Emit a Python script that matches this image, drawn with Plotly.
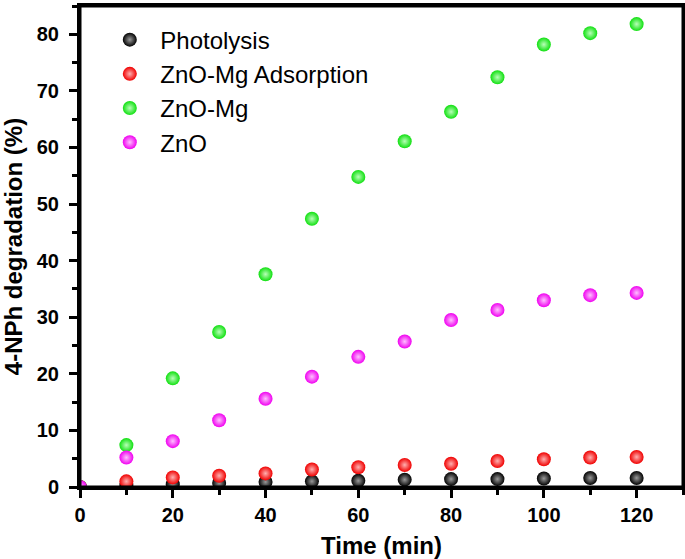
import plotly.graph_objects as go

time_min = [0, 10, 20, 30, 40, 50, 60, 70, 80, 90, 100, 110, 120]
photolysis = [0, 0.3, 0.5, 0.7, 0.9, 1.0, 1.1, 1.3, 1.4, 1.4, 1.5, 1.6, 1.6]
zno_mg_ads = [0, 1.0, 1.7, 2.0, 2.4, 3.1, 3.5, 3.9, 4.1, 4.6, 4.9, 5.2, 5.3]
zno_mg = [0, 7.4, 19.2, 27.4, 37.6, 47.4, 54.8, 61.1, 66.3, 72.4, 78.2, 80.2, 81.8]
zno = [0, 5.2, 8.1, 11.8, 15.6, 19.5, 23.0, 25.7, 29.5, 31.3, 33.0, 33.9, 34.3]

series = [
    ("Photolysis", photolysis, "#000000", "#9a9a9a"),
    ("ZnO-Mg Adsorption", zno_mg_ads, "#f00000", "#ffb0b0"),
    ("ZnO-Mg", zno_mg, "#10e010", "#b8ffb8"),
    ("ZnO", zno, "#f000f0", "#ffc0ff"),
]

fig = go.Figure()
for name, vals, col, hi in series:
    fig.add_trace(go.Scatter(
        x=time_min, y=vals, name=name, mode="markers",
        marker=dict(size=14, color=col, line=dict(width=0),
                    gradient=dict(type="radial", color=hi)),
    ))

FONT = "Arial, Liberation Sans"
axis_common = dict(
    showline=True, linewidth=3, linecolor="black", mirror=True,
    ticks="outside", ticklen=8, tickwidth=3, tickcolor="black",
    showgrid=False, zeroline=False, automargin=False,
    tickfont=dict(family=FONT, size=20, color="black", weight="bold"),
)

fig.update_xaxes(
    range=[0, 130], tick0=0, dtick=20,
    minor=dict(ticks="outside", dtick=10, ticklen=5, tickwidth=3, tickcolor="black"),
    title=dict(text="Time (min)",
               font=dict(family=FONT, size=24, color="black", weight="bold")),
    **axis_common,
)
fig.update_yaxes(
    range=[0, 85], tick0=0, dtick=10,
    minor=dict(ticks="outside", dtick=5, ticklen=5, tickwidth=3, tickcolor="black"),
    ticklabelstandoff=6,
    title=dict(text="4-NPh degradation (%)",
               font=dict(family=FONT, size=24, color="black", weight="bold")),
    **axis_common,
)

# plot frame
fig.add_shape(type="rect", xref="paper", yref="paper", x0=0, x1=1, y0=0, y1=1,
              line=dict(color="black", width=3), layer="above")

fig.update_layout(
    width=685, height=559,
    margin=dict(l=80, r=2, t=6, b=72),
    plot_bgcolor="white", paper_bgcolor="white",
    legend=dict(x=0.032, y=0.976, xanchor="left", yanchor="top",
                bgcolor="rgba(0,0,0,0)", itemwidth=51,
                font=dict(family=FONT, size=24, color="black")),
)

fig.write_html("out.html", config={"displayModeBar": False},
               post_script="document.body.style.margin='0';document.body.style.padding='0';document.documentElement.style.margin='0';")
